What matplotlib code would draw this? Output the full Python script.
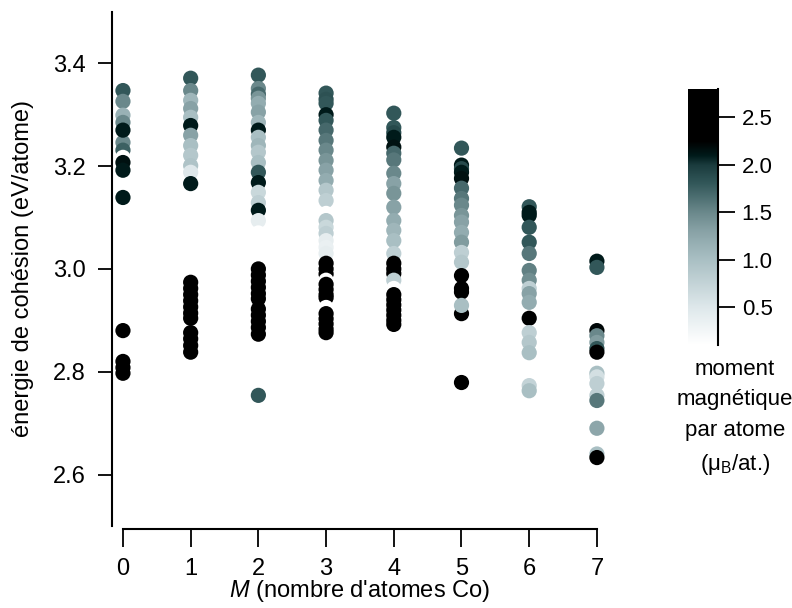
import numpy as np
import matplotlib
matplotlib.use("Agg")
import matplotlib.pyplot as plt
from matplotlib.colors import LinearSegmentedColormap

plt.rcParams['font.family'] = ['Liberation Sans', 'DejaVu Sans']
plt.rcParams['mathtext.fontset'] = 'custom'
plt.rcParams['mathtext.rm'] = 'Liberation Sans'
plt.rcParams['mathtext.it'] = 'Liberation Sans:italic'

# énergie de cohésion (eV/atome) et moment magnétique (muB/at.) pour chaque M
e_M0 = [3.347, 3.326, 3.299, 3.285, 3.246, 3.231, 3.217, 3.270, 3.207, 3.192, 3.139,
        2.880, 2.820, 2.808, 2.797]
mu_M0 = [1.8, 1.5, 1.15, 1.5, 1.5, 1.75, 0.1, 2.1, 2.15, 2.1, 2.1,
         2.6, 2.6, 2.6, 2.6]

e_M1 = [3.371, 3.347, 3.328, 3.312, 3.295, 3.279, 3.260, 3.240, 3.221, 3.201, 3.188, 3.166,
        2.974, 2.962, 2.950, 2.938, 2.926, 2.914, 2.904, 2.876, 2.864, 2.851, 2.838]
mu_M1 = [1.8, 1.5, 1.1, 1.3, 1.0, 2.1, 1.3, 1.0, 0.9, 0.95, 0.5, 2.1,
         2.6, 2.6, 2.6, 2.6, 2.6, 2.6, 2.6, 2.6, 2.6, 2.6, 2.6]

e_M2 = [3.377, 3.351, 3.340, 3.332, 3.322, 3.305, 3.285, 3.270, 3.256, 3.240, 3.227,
        3.207, 3.188, 3.168, 3.149, 3.129, 3.114, 3.094, 3.070,
        3.000, 2.988, 2.976, 2.964, 2.952, 2.942, 2.922, 2.910, 2.898, 2.886, 2.873,
        2.754]
mu_M2 = [1.8, 1.5, 1.7, 1.4, 1.2, 1.3, 1.1, 2.1, 1.0, 1.1, 0.9,
         1.0, 1.8, 2.1, 0.7, 0.8, 2.1, 0.4, 0.1,
         2.6, 2.6, 2.6, 2.6, 2.6, 2.6, 2.6, 2.6, 2.6, 2.6, 2.6,
         1.8]

e_M3 = [3.342, 3.330, 3.322, 3.300, 3.289, 3.270, 3.250, 3.231, 3.211, 3.192, 3.172,
        3.153, 3.133, 3.108, 3.094, 3.081, 3.069, 3.055, 3.042, 3.030,
        3.011, 3.000, 2.990, 2.978, 2.970, 2.960, 2.950, 2.944, 2.925, 2.913, 2.903,
        2.893, 2.883, 2.876]
mu_M3 = [1.8, 1.85, 1.8, 2.1, 1.8, 1.7, 1.6, 1.5, 1.4, 1.3, 1.2,
         0.9, 0.8, 0.1, 0.9, 0.7, 0.8, 0.4, 0.35, 0.4,
         2.6, 2.6, 2.6, 0.1, 2.6, 2.6, 2.6, 2.6, 0.1, 2.6, 2.6,
         2.6, 2.6, 2.6]

e_M4 = [3.303, 3.275, 3.265, 3.256, 3.237, 3.225, 3.212, 3.186, 3.166, 3.147, 3.120,
        3.094, 3.075, 3.055, 3.030, 3.011, 3.000, 2.991, 2.978, 2.962,
        2.950, 2.940, 2.930, 2.920, 2.910, 2.900, 2.892]
mu_M4 = [1.8, 1.8, 1.9, 2.1, 2.15, 1.7, 1.6, 1.5, 1.3, 1.4, 1.3,
         1.2, 1.1, 1.0, 0.8, 2.6, 2.6, 2.6, 0.8, 0.1,
         2.6, 2.6, 2.6, 2.6, 2.6, 2.6, 2.6]

e_M5 = [3.235, 3.202, 3.195, 3.188, 3.176, 3.157, 3.137, 3.124, 3.104, 3.091, 3.071,
        3.052, 3.032, 3.013, 2.987, 2.962, 2.955, 2.913, 2.929, 2.779]
mu_M5 = [1.8, 2.1, 1.9, 2.1, 2.15, 1.7, 1.6, 1.5, 1.4, 1.3, 1.2,
         1.35, 0.8, 0.9, 2.3, 2.6, 2.6, 2.6, 1.0, 2.6]

e_M6 = [3.121, 3.110, 3.104, 3.081, 3.052, 3.030, 2.997, 2.978, 2.962, 2.952, 2.935,
        2.904, 2.876, 2.857, 2.837, 2.773, 2.763]
mu_M6 = [1.8, 2.1, 2.1, 1.8, 1.8, 1.6, 1.55, 1.45, 0.8, 1.3, 1.2,
         2.5, 0.8, 0.9, 1.0, 0.75, 1.0]

e_M7 = [3.015, 3.003, 2.880, 2.870, 2.857, 2.845, 2.838, 2.797, 2.790, 2.777, 2.754,
        2.744, 2.690, 2.640, 2.633]
mu_M7 = [2.1, 1.8, 2.2, 1.5, 1.35, 1.8, 2.6, 1.0, 0.6, 0.8, 0.8,
         1.6, 1.25, 1.0, 2.6]

energies = [e_M0, e_M1, e_M2, e_M3, e_M4, e_M5, e_M6, e_M7]
moments = [mu_M0, mu_M1, mu_M2, mu_M3, mu_M4, mu_M5, mu_M6, mu_M7]

x = np.concatenate([np.full(len(e), m) for m, e in enumerate(energies)])
y = np.concatenate(energies)
c = np.concatenate(moments)

# palette gris-bleu -> noir
vmin, vmax = 0.1, 2.8
nodes = [(0.1, '#ffffff'), (0.5, '#dde7ea'), (1.0, '#a9bfc3'), (1.3, '#88a2a6'),
         (1.5, '#6a888b'), (1.8, '#33585a'), (2.0, '#1a3b3d'), (2.1, '#001a1a'),
         (2.25, '#000000'), (2.8, '#000000')]
cmap = LinearSegmentedColormap.from_list(
    'igor', [((v - vmin) / (vmax - vmin), col) for v, col in nodes])

fig = plt.figure(figsize=(7.92, 6.08), dpi=100)
ax = fig.add_axes([0.142, 0.135, 0.6245, 0.8454])

sc = ax.scatter(x, y, c=c, cmap=cmap, vmin=vmin, vmax=vmax, s=120,
                edgecolors='none')

ax.set_xlim(-0.155, 7.15)
ax.set_ylim(2.5, 3.5)
ax.set_xticks(range(8))
ax.set_yticks([2.6, 2.8, 3.0, 3.2, 3.4])
ax.spines['top'].set_visible(False)
ax.spines['right'].set_visible(False)
ax.spines['bottom'].set_bounds(0, 7)
ax.spines['bottom'].set_position(('outward', 2))
for s in ('left', 'bottom'):
    ax.spines[s].set_linewidth(1.5)
ax.tick_params(axis='y', direction='out', length=10, width=1.3, labelsize=17, pad=9)
ax.tick_params(axis='x', direction='out', length=13, width=1.3, labelsize=17, pad=8)

ax.set_ylabel('énergie de cohésion (eV/atome)', fontsize=17, labelpad=14)
ax.set_xlabel("$M$ (nombre d'atomes Co)", fontsize=17, labelpad=-1)

cax = fig.add_axes([0.8687, 0.4326, 0.0379, 0.421])
cb = fig.colorbar(sc, cax=cax)
cb.outline.set_visible(False)
cb.set_ticks([0.5, 1.0, 1.5, 2.0, 2.5])
cax.tick_params(direction='out', length=12, width=1.3, labelsize=16, pad=5)
cax.plot([1, 1], [0, 1], color='black', lw=1.5, transform=cax.transAxes,
         clip_on=False)

fig.text(0.928, 0.313, 'moment\nmagnétique\npar atome\n(μ$_\\mathrm{B}$/at.)',
         ha='center', va='center', fontsize=16, linespacing=1.6)

fig.savefig('out.png', dpi=100)
